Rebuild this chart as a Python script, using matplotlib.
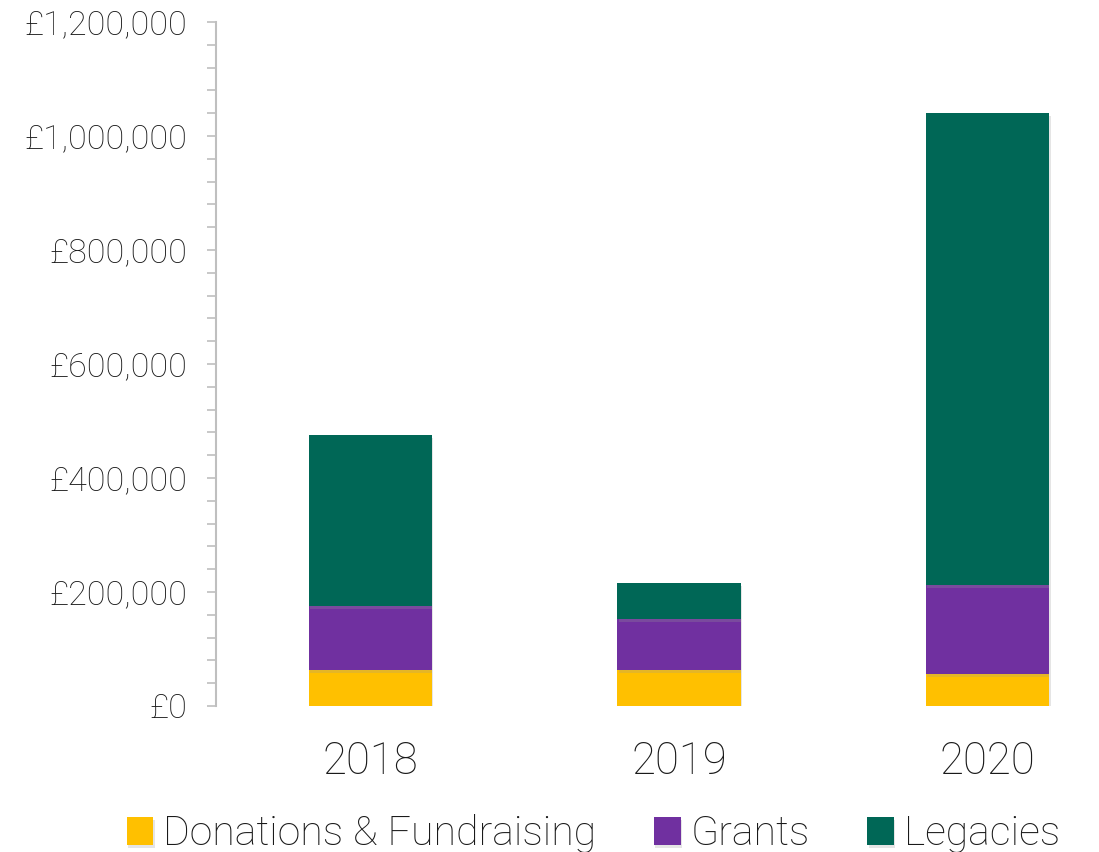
import matplotlib
matplotlib.use('Agg')
import matplotlib.pyplot as plt
from matplotlib.ticker import MultipleLocator, FuncFormatter
from matplotlib import patheffects as pe

years = ['2018', '2019', '2020']
donations = [63000, 63000, 56000]
grants = [112000, 90000, 156000]
legacies = [300000, 63000, 828000]

series_names = ['Donations & Fundraising', 'Grants', 'Legacies']
colors = ['#FFC000', '#7030A0', '#006756']

plt.rcParams['font.family'] = ['Roboto', 'DejaVu Sans']
plt.rcParams['font.weight'] = 'light'
text_col = '#1a1a1a'

fig = plt.figure(figsize=(10.99, 8.52), dpi=100)
# axes runs past the right edge like the original crop
ax = fig.add_axes([216 / 1099, (852 - 706) / 852, (1142 - 216) / 1099, (706 - 22) / 852])

x = range(len(years))
shadow = [pe.SimplePatchShadow(offset=(1, -2), shadow_rgbFace='#999999', alpha=0.25), pe.Normal()]
bottom = [0, 0, 0]
for vals, name, c in zip([donations, grants, legacies], series_names, colors):
    ax.bar(x, vals, width=0.4, bottom=bottom, color=c, label=name, path_effects=shadow)
    bottom = [b + v for b, v in zip(bottom, vals)]

ax.set_xlim(-0.5, 2.5)
ax.set_ylim(0, 1200000)
ax.yaxis.set_major_locator(MultipleLocator(200000))
ax.yaxis.set_minor_locator(MultipleLocator(40000))
ax.yaxis.set_major_formatter(FuncFormatter(lambda v, p: '£{:,.0f}'.format(v)))

for s in ['top', 'right', 'bottom']:
    ax.spines[s].set_visible(False)
ax.spines['left'].set_color('#BFBFBF')
ax.spines['left'].set_linewidth(1.5)
ax.tick_params(axis='y', which='both', length=6.5, width=1.2, color='#BFBFBF',
               labelsize=24.5, labelcolor=text_col, pad=14)
ax.tick_params(axis='x', length=0, labelsize=31.5, labelcolor=text_col, pad=25)
ax.set_xticks(list(x))
ax.set_xticklabels(years)

fig.legend(loc='lower center', bbox_to_anchor=(0.54, -0.045), ncol=3, frameon=False,
           fontsize=29.5, handlelength=0.65, handleheight=0.65, handletextpad=0.25,
           columnspacing=1.4, labelcolor=text_col)

fig.savefig('out.png', dpi=100)
